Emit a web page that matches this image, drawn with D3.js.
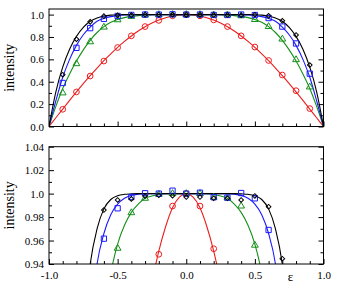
<!DOCTYPE html>
<html>
<head>
<meta charset="utf-8">
<script src="https://cdn.jsdelivr.net/npm/d3@7"></script>
<style>
  body { margin: 0; background: #fff; }
  text { font-family: "Liberation Serif", "Times New Roman", serif; }
</style>
</head>
<body>
<div id="chart"></div>
<script>
var svgWidth = 338;
var svgHeight = 286;

// measured points, x = -0.9 ... 0.9
var pointX = [-0.9, -0.8, -0.7, -0.6, -0.5, -0.4, -0.3, -0.2, -0.1, 0, 0.1, 0.2, 0.3, 0.4, 0.5, 0.6, 0.7, 0.8, 0.9];
var blackPts = [0.463, 0.78, 0.935, 0.986, 0.9946, 0.9955, 0.998, 0.9986, 0.9982, 0.9971, 0.9971, 0.996, 0.996, 0.9946, 0.998, 0.9888, 0.9445, 0.818, 0.549];
var bluePts  = [0.389, 0.703, 0.879, 0.9616, 0.9875, 0.9971, 1.0003, 1.0, 1.0025, 1.0, 1.0008, 0.9969, 0.9966, 1.0005, 0.996, 0.969, 0.893, 0.742, 0.472];
var greenPts = [0.30, 0.561, 0.757, 0.888, 0.9534, 0.9837, 0.996, 0.9994, 1.0, 1.0, 1.0, 0.9969, 0.9963, 0.9894, 0.956, 0.893, 0.781, 0.597, 0.353];
var redPts   = [0.154, 0.309, 0.451, 0.585, 0.706, 0.81, 0.893, 0.9483, 0.9894, 1.0, 0.9894, 0.953, 0.893, 0.81, 0.71, 0.59, 0.46, 0.32, 0.16];

// fitted curves, x = -1 ... 1 in steps of 0.05
var curveX = [-1, -0.95, -0.9, -0.85, -0.8, -0.75, -0.7, -0.65, -0.6, -0.55, -0.5, -0.45, -0.4, -0.35, -0.3, -0.25, -0.2, -0.15, -0.1, -0.05,
              0, 0.05, 0.1, 0.15, 0.2, 0.25, 0.3, 0.35, 0.4, 0.45, 0.5, 0.55, 0.6, 0.65, 0.7, 0.75, 0.8, 0.85, 0.9, 0.95, 1];
var blackFit = [0, 0.31, 0.53, 0.69, 0.805, 0.885, 0.94, 0.97, 0.987, 0.995, 0.9982, 0.9994, 0.9998, 1, 1, 1, 1, 1, 1, 1,
                1, 1, 1, 1, 1, 1, 1, 1, 0.9998, 0.9994, 0.9982, 0.995, 0.987, 0.97, 0.94, 0.885, 0.805, 0.69, 0.53, 0.31, 0];
var blueFit  = [0, 0.23, 0.44, 0.6, 0.725, 0.82, 0.888, 0.94, 0.966, 0.982, 0.991, 0.996, 0.9985, 0.9995, 1, 1, 1, 1, 1, 1,
                1, 1, 1, 1, 1, 1, 1, 0.9995, 0.9985, 0.996, 0.991, 0.982, 0.966, 0.94, 0.888, 0.82, 0.725, 0.6, 0.44, 0.23, 0];
var greenFit = [0, 0.18, 0.34, 0.47, 0.585, 0.685, 0.77, 0.84, 0.893, 0.932, 0.957, 0.973, 0.984, 0.991, 0.996, 0.998, 0.9995, 1, 1, 1,
                1, 1, 1, 1, 0.9995, 0.998, 0.996, 0.991, 0.984, 0.973, 0.957, 0.932, 0.893, 0.84, 0.77, 0.685, 0.585, 0.47, 0.34, 0.18, 0];
var redFit   = [0, 0.078, 0.156, 0.233, 0.309, 0.383, 0.454, 0.522, 0.588, 0.649, 0.707, 0.76, 0.809, 0.853, 0.891, 0.924, 0.951, 0.972, 0.988, 0.997,
                1, 0.997, 0.988, 0.972, 0.951, 0.924, 0.891, 0.853, 0.809, 0.76, 0.707, 0.649, 0.588, 0.522, 0.454, 0.383, 0.309, 0.233, 0.156, 0.078, 0];

// ticks
var xMinorTicks = [-0.9, -0.8, -0.7, -0.6, -0.4, -0.3, -0.2, -0.1, 0.1, 0.2, 0.3, 0.4, 0.6, 0.7, 0.8, 0.9];
var xMajorTicks = [-1, -0.5, 0, 0.5, 1];
var xTickLabels = ["-1.0", "-0.5", "0.0", "0.5", "1.0"];
var topYMajor = [0, 0.2, 0.4, 0.6, 0.8, 1.0];
var topYLabels = ["0.0", "0.2", "0.4", "0.6", "0.8", "1.0"];
var topYMinor = [0.1, 0.3, 0.5, 0.7, 0.9];
var botYMajor = [0.94, 0.96, 0.98, 1.0, 1.02, 1.04];
var botYLabels = ["0.94", "0.96", "0.98", "1.0", "1.02", "1.04"];
var botYMinor = [0.95, 0.97, 0.99, 1.01, 1.03];

var series = [
    { name: "red",   color: "#ee1c1c", fit: redFit,   pts: redPts,   symbol: d3.symbolCircle,   size: 26, rotate: 0 },
    { name: "green", color: "#15901a", fit: greenFit, pts: greenPts, symbol: d3.symbolTriangle, size: 20, rotate: 0 },
    { name: "blue",  color: "#1a1aff", fit: blueFit,  pts: bluePts,  symbol: d3.symbolSquare,   size: 28, rotate: 0 },
    { name: "black", color: "#000000", fit: blackFit, pts: blackPts, symbol: d3.symbolSquare,   size: 11, rotate: 45 }
];

var svg = d3.select("#chart")
    .append("svg")
    .attr("width", svgWidth)
    .attr("height", svgHeight);

var x = d3.scaleLinear().domain([-1, 1]).range([49, 323.5]);

function drawPanel(id, yDomain, yRange, yMajor, yLabels, yMinor, showX) {
    var y = d3.scaleLinear().domain(yDomain).range(yRange);
    var g = svg.append("g");

    g.append("clipPath").attr("id", id)
        .append("rect")
        .attr("x", x(-1)).attr("y", yRange[1])
        .attr("width", x(1) - x(-1)).attr("height", yRange[0] - yRange[1]);

    var plot = g.append("g").attr("clip-path", `url(#${id})`);

    var line = d3.line()
        .x((d, i) => x(curveX[i]))
        .y(d => y(d))
        .curve(d3.curveMonotoneX);

    series.forEach(function (s) {
        plot.append("path")
            .attr("d", line(s.fit))
            .attr("fill", "none")
            .attr("stroke", s.color)
            .attr("stroke-width", 1.1);
    });

    series.forEach(function (s) {
        var pts = s.pts.map((v, i) => ({ x: pointX[i], y: v }))
            .filter(d => d.y >= yDomain[0] - 0.002 && d.y <= yDomain[1]);
        plot.selectAll(null)
            .data(pts)
            .enter()
            .append("path")
            .attr("d", d3.symbol().type(s.symbol).size(s.size))
            .attr("transform", d => `translate(${x(d.x)},${y(d.y)}) rotate(${s.rotate})`)
            .attr("fill", "none")
            .attr("stroke", s.color)
            .attr("stroke-width", 1);
    });

    // inward ticks
    var tickAxes = [
        [d3.axisBottom(x).tickValues(xMinorTicks).tickSize(-3), `translate(0,${yRange[0]})`],
        [d3.axisBottom(x).tickValues(xMajorTicks).tickSize(-5), `translate(0,${yRange[0]})`],
        [d3.axisLeft(y).tickValues(yMinor).tickSize(-3), `translate(${x(-1)},0)`],
        [d3.axisLeft(y).tickValues(yMajor).tickSize(-5), `translate(${x(-1)},0)`],
        [d3.axisRight(y).tickValues(yMinor).tickSize(-3), `translate(${x(1)},0)`],
        [d3.axisRight(y).tickValues(yMajor).tickSize(-5), `translate(${x(1)},0)`]
    ];
    tickAxes.forEach(function (a) {
        var ax = g.append("g").attr("transform", a[1]).call(a[0].tickFormat(""));
        ax.select(".domain").remove();
        ax.selectAll("line").attr("stroke", "#000");
    });

    // y labels
    var yl = g.append("g")
        .attr("transform", `translate(${x(-1)},0)`)
        .call(d3.axisLeft(y).tickValues(yMajor).tickSize(0).tickPadding(5)
            .tickFormat((d, i) => yLabels[i]));
    yl.select(".domain").remove();
    yl.selectAll("text")
        .attr("font-size", 11)
        .attr("fill", "#000");

    if (showX) {
        var xl = g.append("g")
            .attr("transform", `translate(0,${yRange[0]})`)
            .call(d3.axisBottom(x).tickValues(xMajorTicks).tickSize(0).tickPadding(7)
                .tickFormat((d, i) => xTickLabels[i]));
        xl.select(".domain").remove();
        xl.selectAll("text")
            .attr("font-size", 11)
            .attr("fill", "#000");

        g.append("text")
            .attr("x", x(0.76))
            .attr("y", yRange[0] + 17)
            .attr("text-anchor", "middle")
            .attr("font-size", 13)
            .text("ε");
    }

    // frame
    g.append("rect")
        .attr("x", x(-1)).attr("y", yRange[1])
        .attr("width", x(1) - x(-1)).attr("height", yRange[0] - yRange[1])
        .attr("fill", "none")
        .attr("stroke", "#000")
        .attr("stroke-width", 1);

    g.append("text")
        .attr("transform", `translate(14, ${(yRange[0] + yRange[1]) / 2}) rotate(-90)`)
        .attr("text-anchor", "middle")
        .attr("font-size", 14)
        .text("intensity");
}

drawPanel("clipTop", [0, 1.05], [126.5, 9], topYMajor, topYLabels, topYMinor, false);
drawPanel("clipBot", [0.94, 1.04], [264, 146.7], botYMajor, botYLabels, botYMinor, true);
</script>
</body>
</html>
